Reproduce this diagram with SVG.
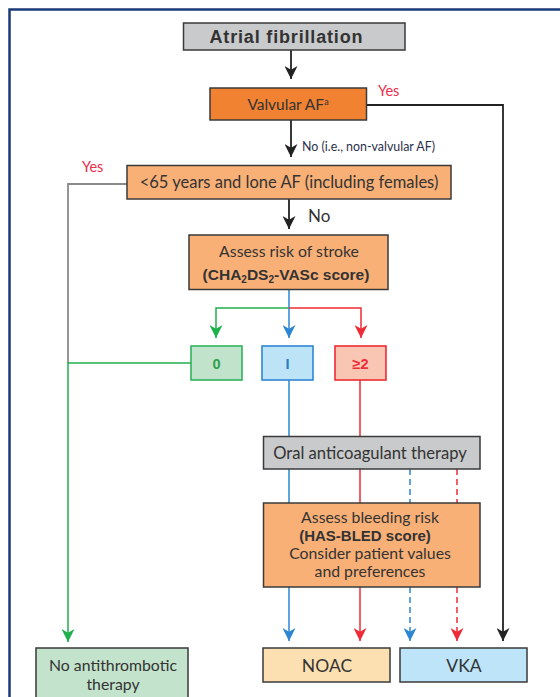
<svg xmlns="http://www.w3.org/2000/svg" width="560" height="697" viewBox="0 0 560 697">
<style>
text{font-family:Lato,"Liberation Sans",sans-serif;fill:#333;text-anchor:middle}
.bo{font-family:"Liberation Sans",Arial,sans-serif;font-weight:bold}
.b{stroke:#3a3a3a;stroke-width:1.5}
.t{font-size:16.6px}
.m{font-size:15.8px}
.k{fill:none;stroke:#222;stroke-width:1.8}
.gy{fill:none;stroke:#8a8a8a;stroke-width:1.8}
.g{fill:none;stroke:#1fb04e;stroke-width:1.5}
.bl{fill:none;stroke:#2d86d2;stroke-width:1.5}
.r{fill:none;stroke:#ee2b36;stroke-width:1.5}
.d{stroke-dasharray:6 4}
.yes{fill:#ee2b4a;font-size:14.5px;text-anchor:start}
</style>
<defs>
<marker id="ak" viewBox="0 0 14 14" refX="14" refY="7" markerWidth="13" markerHeight="13" markerUnits="userSpaceOnUse" orient="auto"><path d="M0,0 L14,7 L0,14 L4,7 Z" fill="#222"/></marker>
<marker id="ag" viewBox="0 0 14 14" refX="14" refY="7" markerWidth="13" markerHeight="13" markerUnits="userSpaceOnUse" orient="auto"><path d="M0,0 L14,7 L0,14 L4,7 Z" fill="#1fb04e"/></marker>
<marker id="ab" viewBox="0 0 14 14" refX="14" refY="7" markerWidth="13" markerHeight="13" markerUnits="userSpaceOnUse" orient="auto"><path d="M0,0 L14,7 L0,14 L4,7 Z" fill="#2d86d2"/></marker>
<marker id="ar" viewBox="0 0 14 14" refX="14" refY="7" markerWidth="13" markerHeight="13" markerUnits="userSpaceOnUse" orient="auto"><path d="M0,0 L14,7 L0,14 L4,7 Z" fill="#ee2b36"/></marker>
</defs>
<rect width="560" height="697" fill="#fff"/>
<path d="M9.5,697 V9.5 H560" fill="none" stroke="#1b3a78" stroke-width="2.5"/>

<g id="connectors">
<path class="k" d="M291,50 V79" marker-end="url(#ak)"/>
<path class="k" d="M291,120 V157" marker-end="url(#ak)"/>
<path class="k" d="M289,199 V229" marker-end="url(#ak)"/>
<path class="k" d="M367,105 H503 V641" marker-end="url(#ak)"/>
<path class="gy" d="M127,184 H68 V363"/>
<path class="g" d="M191,363 H68 V642" marker-end="url(#ag)"/>
<path class="g" d="M289,308 H216 V338" marker-end="url(#ag)"/>
<path class="bl" d="M289,290 V338" marker-end="url(#ab)"/>
<path class="r" d="M289,308 H361 V338" marker-end="url(#ar)"/>
<path class="bl" d="M289,380 V436 M289,469 V503"/>
<path class="bl" d="M289,587 V641" marker-end="url(#ab)"/>
<path class="r" d="M360,380 V436 M360,469 V503"/>
<path class="r" d="M360,587 V641" marker-end="url(#ar)"/>
<path class="bl d" d="M410,469 V503"/>
<path class="bl d" d="M410,587 V641" marker-end="url(#ab)"/>
<path class="r d" d="M457,469 V503"/>
<path class="r d" d="M457,587 V641" marker-end="url(#ar)"/>
<text class="yes" x="378" y="96">Yes</text>
<text x="302" y="151" style="font-size:12.4px;text-anchor:start;fill:#2b2f4a">No (i.e., non-valvular AF)</text>
<text class="yes" x="82" y="172">Yes</text>
<text x="308" y="222" style="font-size:17px;text-anchor:start">No</text>
</g>

<g id="atrial-fibrillation">
<rect class="b" x="183.5" y="23" width="221.5" height="27" fill="#c9cacc"/>
<text x="286" y="43" class="bo" style="font-size:18px" textLength="153">Atrial fibrillation</text>
</g>
<g id="valvular-af">
<rect class="b" x="210" y="88" width="156.5" height="32" fill="#f08232"/>
<text x="288" y="110" style="font-size:15.5px">Valvular AF<tspan dy="-5" style="font-size:9px">a</tspan></text>
</g>
<g id="under-65">
<rect class="b" x="127" y="165.5" width="324" height="33.5" fill="#f9b077"/>
<text x="289" y="188" style="font-size:16.5px">&lt;65 years and lone AF (including females)</text>
</g>
<g id="assess-stroke">
<rect class="b" x="189" y="235" width="199" height="54.5" fill="#f9b077"/>
<text x="289" y="257" class="m">Assess risk of stroke</text>
<text x="286" y="280" class="bo" style="font-size:15.5px">(CHA<tspan dy="3" style="font-size:10px">2</tspan><tspan dy="-3">DS</tspan><tspan dy="3" style="font-size:10px">2</tspan><tspan dy="-3">-VASc score)</tspan></text>
</g>
<g id="score-0">
<rect x="191" y="346" width="51" height="34" fill="#c1e3cb" stroke="#2eb45e" stroke-width="1.6"/>
<text x="216.5" y="369" class="bo" style="font-size:14.5px;fill:#2e9e50">0</text>
</g>
<g id="score-1">
<rect x="262" y="346" width="51" height="34" fill="#bde3f7" stroke="#2d86d2" stroke-width="1.6"/>
<text x="287.5" y="369" class="bo" style="font-size:14.5px;fill:#2a7cc0">I</text>
</g>
<g id="score-2">
<rect x="335" y="346" width="51" height="34" fill="#f9c6b4" stroke="#ee2b36" stroke-width="1.6"/>
<text x="360.5" y="369" class="bo" style="font-size:14.5px;fill:#ee2b36">≥2</text>
</g>
<g id="oral-anticoagulant">
<rect class="b" x="263.5" y="436.5" width="216.5" height="32.5" fill="#c9cacc"/>
<text x="370" y="459" class="t">Oral anticoagulant therapy</text>
</g>
<g id="assess-bleeding">
<rect class="b" x="263.5" y="503" width="216.5" height="84" fill="#f9b077"/>
<text x="370" y="523" class="m">Assess bleeding risk</text>
<text x="365" y="541" class="bo" style="font-size:15px">(HAS-BLED score)</text>
<text x="370" y="559" class="m">Consider patient values</text>
<text x="370" y="577" class="m">and preferences</text>
</g>
<g id="no-antithrombotic">
<rect class="b" x="36" y="648" width="152" height="55" fill="#c3e3cc"/>
<text x="113" y="671" class="m">No antithrombotic</text>
<text x="113" y="690" class="m">therapy</text>
</g>
<g id="noac">
<rect class="b" x="263" y="648" width="127" height="34" fill="#fde0b2"/>
<text x="327" y="672" style="font-size:17.5px">NOAC</text>
</g>
<g id="vka">
<rect class="b" x="400" y="648" width="127" height="34" fill="#bde4f8"/>
<text x="464" y="672" style="font-size:17.5px">VKA</text>
</g>
</svg>
